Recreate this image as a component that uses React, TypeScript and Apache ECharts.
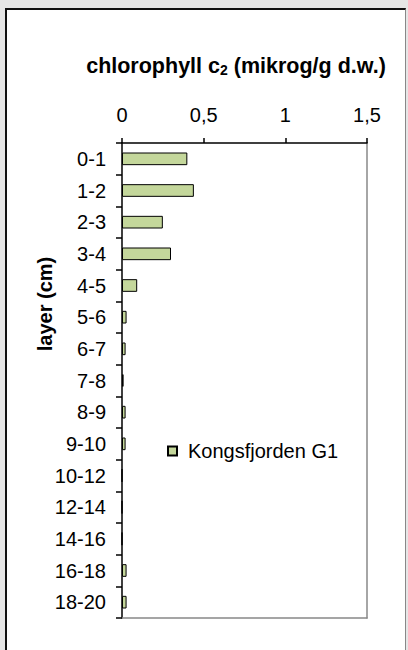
import React, { useEffect, useRef } from "react";
import * as echarts from "echarts";

// Sediment layers (cm) and chlorophyll c2 content (µg/g dry weight)
const layers = [
  "0-1", "1-2", "2-3", "3-4", "4-5", "5-6", "6-7", "7-8",
  "8-9", "9-10", "10-12", "12-14", "14-16", "16-18", "18-20",
];
const chlC2 = [
  0.4, 0.44, 0.25, 0.3, 0.093, 0.028, 0.022, 0.01,
  0.022, 0.022, 0, 0, 0, 0.028, 0.028,
];
const seriesName = "Kongsfjorden G1";
const xMin = 0;
const xMax = 1.5;
const xStep = 0.5;

const FONT = "'Liberation Sans', Arial, sans-serif";

export default function App() {
  const ref = useRef<HTMLDivElement>(null);

  useEffect(() => {
    if (!ref.current) return;
    const chart = echarts.init(ref.current, null, { renderer: "svg" });
    chart.setOption({
      animation: false,
      backgroundColor: "transparent",
      textStyle: { fontFamily: FONT },
      grid: { left: 122, right: 41, top: 143, bottom: 32 },
      legend: {
        left: 167,
        top: 441,
        padding: 0,
        itemWidth: 9,
        itemHeight: 9,
        icon: "rect",
        textStyle: {
          fontFamily: FONT,
          fontSize: 20,
          color: "#000",
          padding: [0, 0, 0, 6],
        },
        data: [seriesName],
      },
      xAxis: [
        {
          type: "value",
          position: "top",
          min: xMin,
          max: xMax,
          interval: xStep,
          axisLine: { show: true, lineStyle: { color: "#000", width: 1.5 } },
          axisTick: { show: true, inside: false, length: 5, lineStyle: { color: "#000", width: 1.5 } },
          axisLabel: {
            margin: 18,
            fontFamily: FONT,
            fontSize: 20,
            color: "#000",
            formatter: (v: number) => String(v).replace(".", ","),
          },
          splitLine: { show: false },
        },
        {
          type: "value",
          position: "bottom",
          min: xMin,
          max: xMax,
          axisLine: { show: true, onZero: false, lineStyle: { color: "#888", width: 1.5 } },
          axisTick: { show: false },
          axisLabel: { show: false },
          splitLine: { show: false },
        },
      ],
      yAxis: [
        {
          type: "category",
          data: layers,
          inverse: true,
          axisLine: { show: true, lineStyle: { color: "#000", width: 1.5 } },
          axisTick: { show: true, inside: false, length: 6, lineStyle: { color: "#000", width: 1.5 } },
          axisLabel: { margin: 16, fontFamily: FONT, fontSize: 20, color: "#000" },
        },
        {
          type: "category",
          data: layers,
          inverse: true,
          position: "right",
          axisLine: { show: true, onZero: false, lineStyle: { color: "#888", width: 1.5 } },
          axisTick: { show: false },
          axisLabel: { show: false },
        },
      ],
      series: [
        {
          name: seriesName,
          type: "bar",
          xAxisIndex: 0,
          yAxisIndex: 0,
          data: chlC2,
          barCategoryGap: "60%",
          itemStyle: { color: "#c4d79b", borderColor: "#000", borderWidth: 1 },
        },
      ],
      graphic: [
        {
          type: "text",
          x: 236,
          y: 66,
          style: {
            text: "{b|chlorophyll c}{s|2}{b| (mikrog/g d.w.)}",
            align: "center",
            verticalAlign: "middle",
            rich: {
              b: { fontFamily: FONT, fontSize: 21.5, fontWeight: "bold", fill: "#000" },
              s: {
                fontFamily: FONT,
                fontSize: 14,
                fontWeight: "bold",
                fill: "#000",
                verticalAlign: "bottom",
                lineHeight: 10,
              },
            },
          },
        },
        {
          type: "text",
          x: 45,
          y: 304,
          rotation: Math.PI / 2,
          style: {
            text: "layer (cm)",
            fontFamily: FONT,
            fontSize: 20,
            fontWeight: "bold",
            fill: "#000",
            align: "center",
            verticalAlign: "middle",
          },
        },
      ],
    });
    return () => chart.dispose();
  }, []);

  return (
    <div
      style={{
        position: "fixed",
        left: 0,
        top: 0,
        width: 408,
        height: 650,
        background: "#e6e6e6",
        overflow: "hidden",
      }}
    >
      <div
        style={{
          position: "absolute",
          left: 5,
          top: 8,
          width: 401,
          height: 680,
          background: "#fff",
          borderLeft: "2px solid #111",
          borderTop: "2px solid #111",
          borderRight: "1.5px solid #888",
          boxSizing: "border-box",
        }}
      />
      <div ref={ref} style={{ position: "absolute", left: 0, top: 0, width: 408, height: 650 }} />
    </div>
  );
}
